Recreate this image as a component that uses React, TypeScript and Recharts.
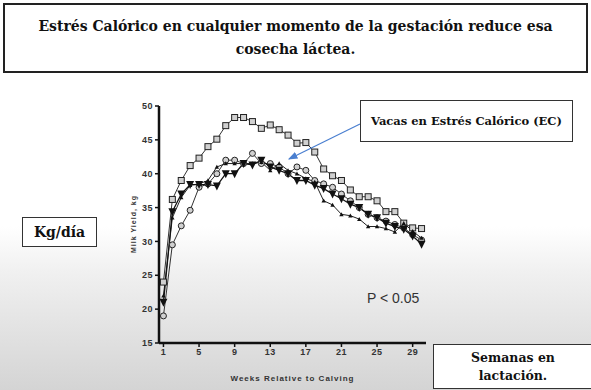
import React from 'react';
import { LineChart, Line, XAxis, YAxis, Label } from 'recharts';

// Semanas relativas al parto
const weeks = [1, 2, 3, 4, 5, 6, 7, 8, 9, 10, 11, 12, 13, 14, 15, 16, 17, 18, 19, 20, 21, 22, 23, 24, 25, 26, 27, 28, 29, 30];

// Producción de leche (kg/día) por grupo
const squareSeries = [24, 36.2, 39, 41.2, 42.3, 44, 45.1, 47.1, 48.3, 48.3, 47.7, 46.7, 47.2, 46.5, 45.7, 44.5, 44.6, 43.2, 40.7, 39.7, 39.0, 37.6, 36.6, 36.6, 36.0, 34.4, 34.4, 32.7, 32.0, 31.9];
const circleSeries = [19, 29.5, 32.3, 34.6, 38, 38.5, 40, 42, 42, 41.5, 43, 41.5, 41.5, 41, 40, 41, 40.5, 39, 38.5, 38, 37, 36, 35, 34, 33.5, 33, 32.5, 32, 31, 30.2];
const invTriangleSeries = [21, 34.4, 37, 38.4, 38.4, 38.4, 38.2, 40, 40, 41.5, 41.3, 42, 41, 40.5, 40, 39, 39, 38.3, 37.8, 37, 36.3, 35.5, 35, 34, 33.5, 32.7, 32.2, 31.8, 30.8, 29.6];
const triangleSeries = [22, 33.5, 36.5, 38.3, 38.5, 39, 41, 41.5, 41.5, 41.5, 41.5, 41.7, 40.5, 41.5, 40.5, 40, 39.3, 38.8, 36, 35.4, 34, 33.8, 33.3, 32.2, 32.2, 31.9, 31.4, 32.7, 31.5, 30.5];

const xTicks = [1, 5, 9, 13, 17, 21, 25, 29];
const yTicks = [15, 20, 25, 30, 35, 40, 45, 50];

const data = weeks.map((w, i) => ({
  week: w,
  sq: squareSeries[i],
  ci: circleSeries[i],
  inv: invTriangleSeries[i],
  tri: triangleSeries[i],
}));

const tickStyle = { fontFamily: 'Liberation Sans, Arial', fontSize: 9, fontWeight: 700, fill: '#333', letterSpacing: 0.5 };

const SquareDot = (p: any) => (
  <rect key={p.index} x={p.cx - 3} y={p.cy - 3} width={6} height={6} fill="#d0d0d0" stroke="#222" strokeWidth={1} />
);
const CircleDot = (p: any) => (
  <circle key={p.index} cx={p.cx} cy={p.cy} r={3} fill="#d0d0d0" stroke="#222" strokeWidth={1} />
);
const InvTriDot = (p: any) => (
  <path key={p.index} d={`M${p.cx - 4},${p.cy - 3.5} L${p.cx + 4},${p.cy - 3.5} L${p.cx},${p.cy + 4.5} Z`} fill="#111" />
);
const TriDot = (p: any) => (
  <path key={p.index} d={`M${p.cx - 2.2},${p.cy + 1.8} L${p.cx + 2.2},${p.cy + 1.8} L${p.cx},${p.cy - 2.2} Z`} fill="#111" />
);

const serif = 'DejaVu Serif, serif';

const box: React.CSSProperties = {
  position: 'absolute',
  border: '1.5px solid #333',
  background: '#fff',
  boxSizing: 'border-box',
  fontFamily: serif,
  fontWeight: 700,
  color: '#111',
  display: 'flex',
  alignItems: 'center',
  justifyContent: 'center',
  textAlign: 'center',
  whiteSpace: 'nowrap',
};

export default function App() {
  return (
    <div
      style={{
        position: 'fixed',
        left: 0,
        top: 0,
        width: 591,
        height: 390,
        overflow: 'hidden',
        background: 'linear-gradient(to bottom, #ffffff 0%, #ffffff 58%, #f0f0f0 70%, #d4d4d4 100%)',
      }}
    >
      <div style={{ ...box, left: 3, top: 3, width: 585, height: 70, border: '2px solid #222', fontSize: 14, lineHeight: '23px' }}>
        Estrés Calórico en cualquier momento de la gestación reduce esa
        <br />
        cosecha láctea.
      </div>

      <div style={{ position: 'absolute', left: 0, top: 0 }}>
        <LineChart width={591} height={390} data={data} margin={{ top: 106, right: 165, bottom: 0, left: 119 }}>
          <XAxis
            dataKey="week"
            type="number"
            domain={[0.5, 30.5]}
            ticks={xTicks}
            height={47}
            tick={tickStyle}
            tickSize={4}
            tickLine={{ stroke: '#111', strokeWidth: 1.5 }}
            axisLine={{ stroke: '#111', strokeWidth: 2.5 }}
          >
            <Label
              value="Weeks Relative to Calving"
              position="insideBottom"
              offset={9}
              style={{ fontFamily: 'Liberation Sans, Arial', fontSize: 8, fontWeight: 700, fill: '#333', letterSpacing: 1 }}
            />
          </XAxis>
          <YAxis
            domain={[15, 50]}
            ticks={yTicks}
            width={40}
            tick={tickStyle}
            tickSize={4}
            tickLine={{ stroke: '#111', strokeWidth: 1.5 }}
            axisLine={{ stroke: '#111', strokeWidth: 2.5 }}
          >
            <Label
              content={() => (
                <text
                  x={136}
                  y={224}
                  transform="rotate(-90 136 224)"
                  textAnchor="middle"
                  style={{ fontFamily: 'Liberation Sans, Arial', fontSize: 7, fontWeight: 700, fill: '#333', letterSpacing: 1 }}
                >
                  Milk Yield, kg
                </text>
              )}
            />
          </YAxis>
          <Line dataKey="sq" stroke="#333" strokeWidth={1} dot={SquareDot} isAnimationActive={false} />
          <Line dataKey="ci" stroke="#333" strokeWidth={1} dot={CircleDot} isAnimationActive={false} />
          <Line dataKey="tri" stroke="#222" strokeWidth={1} dot={TriDot} isAnimationActive={false} />
          <Line dataKey="inv" stroke="#111" strokeWidth={1.3} dot={InvTriDot} isAnimationActive={false} />
        </LineChart>
      </div>

      <svg width={591} height={390} style={{ position: 'absolute', left: 0, top: 0, pointerEvents: 'none' }}>
        <defs>
          <marker id="ah" markerWidth="8" markerHeight="8" refX="7" refY="4" orient="auto">
            <path d="M0,1 L8,4 L0,7 Z" fill="#4a7fd0" />
          </marker>
        </defs>
        <line x1={360} y1={124} x2={289} y2={159} stroke="#4a7fd0" strokeWidth={1.2} markerEnd="url(#ah)" />
      </svg>

      <div style={{ ...box, left: 360, top: 100, width: 213, height: 42, fontSize: 11.5 }}>
        Vacas en Estrés Calórico (EC)
      </div>

      <div style={{ ...box, left: 22, top: 217, width: 75, height: 30, fontSize: 14 }}>Kg/día</div>

      <div
        style={{
          position: 'absolute',
          left: 367,
          top: 290,
          fontFamily: 'Liberation Sans Narrow, Liberation Sans, Arial',
          fontSize: 14,
          color: '#333',
        }}
      >
        P &lt; 0.05
      </div>

      <div style={{ ...box, left: 433, top: 344, width: 160, height: 45, fontSize: 12.5, lineHeight: '18px' }}>
        Semanas en
        <br />
        lactación.
      </div>
    </div>
  );
}
